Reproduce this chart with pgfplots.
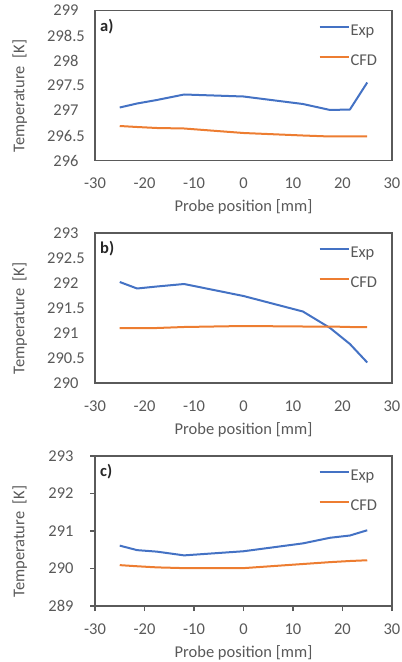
\documentclass[border=0pt]{standalone}
\usepackage{fontspec}
\setmainfont{Carlito}
\usepackage{pgfplots}
\pgfplotsset{compat=1.18}
\definecolor{exp}{HTML}{4472C4}
\definecolor{cfd}{HTML}{ED7D31}
\definecolor{txt}{HTML}{595959}
\definecolor{frm}{HTML}{5A5A5A}
\pgfplotsset{
  legend image code/.code={\draw[#1, line width=2bp] (0bp,4.5bp) -- (29bp,4.5bp);},
  panel/.style={
    width=297bp, height=150bp, scale only axis,
    xmin=-30, xmax=30, xtick={-30,-20,...,30},
    axis line style={frm, line width=1.2bp},
    tick label style={font=\fontsize{16.5bp}{18bp}\selectfont, text=txt},
    /pgf/number format/assume math mode=true,
    yticklabel style={anchor=center, xshift=-29bp},
    label style={font=\fontsize{16.5bp}{18bp}\selectfont, text=txt},
    xlabel={Probe position [mm]},
    ylabel={Temperature\ \ [K]},
    xlabel style={at={(axis description cs:0.5,-0.31)}, anchor=center},
    ylabel style={at={(axis description cs:-0.253,0.43)}, anchor=center},
    legend style={at={(axis description cs:0.752,0.915)}, anchor=north west,
      draw=none, fill=none, inner sep=0pt, row sep=14bp,
      font=\fontsize{16.5bp}{18bp}\selectfont, text=txt,
      nodes={inner sep=1bp, text height=11bp, text depth=3bp}},
    legend cell align=left,
    every axis plot/.append style={line width=2bp, no marks, line join=round},
  },
  noticks/.style={major tick length=0pt, xticklabel style={yshift=-14bp}},
}
\begin{document}
\begin{tikzpicture}
\useasboundingbox (0,-662bp) rectangle (402bp,0);
% panel a
\begin{axis}[panel, noticks, at={(95bp,-10.5bp)}, anchor=north west,
  ymin=296, ymax=299, ytick={296,296.5,...,299}]
\addplot[exp] coordinates {(-25,297.06) (-21.5,297.14) (-17.5,297.21) (-12,297.32) (0,297.28) (12,297.13) (17.5,297.01) (21.5,297.02) (25,297.56)};
\addplot[cfd] coordinates {(-25,296.69) (-21.5,296.67) (-17.5,296.65) (-12,296.64) (0,296.55) (12,296.50) (17.5,296.48) (21.5,296.48) (25,296.48)};
\legend{Exp,CFD}
\node[anchor=west, font=\bfseries\fontsize{16.5bp}{18bp}\selectfont, text=black!85, inner sep=0pt] at (axis description cs:0.017,0.893) {a)};
\end{axis}
% panel b
\begin{axis}[panel, noticks, at={(95bp,-233bp)}, anchor=north west,
  ymin=290, ymax=293, ytick={290,290.5,...,293}]
\addplot[exp] coordinates {(-25,292.02) (-21.5,291.89) (-17.5,291.93) (-12,291.98) (0,291.74) (12,291.43) (17.5,291.10) (21.5,290.78) (25,290.41)};
\addplot[cfd] coordinates {(-25,291.10) (-21.5,291.10) (-17.5,291.10) (-12,291.12) (0,291.14) (12,291.13) (17.5,291.13) (21.5,291.12) (25,291.12)};
\legend{Exp,CFD}
\node[anchor=west, font=\bfseries\fontsize{16.5bp}{18bp}\selectfont, text=black!85, inner sep=0pt] at (axis description cs:0.017,0.893) {b)};
\end{axis}
% panel c
\begin{axis}[panel, at={(95bp,-456bp)}, anchor=north west, height=150bp,
  ymin=289, ymax=293, ytick={289,290,...,293},
  tick pos=left, tick align=outside, major tick length=5bp,
  xticklabel style={yshift=-9bp},
  tick style={frm, line width=1.2bp}]
\addplot[exp] coordinates {(-25,290.61) (-21.5,290.49) (-17.5,290.45) (-12,290.35) (0,290.46) (12,290.67) (17.5,290.82) (21.5,290.88) (25,291.02)};
\addplot[cfd] coordinates {(-25,290.09) (-21.5,290.06) (-17.5,290.03) (-12,290.01) (0,290.01) (12,290.12) (17.5,290.17) (21.5,290.20) (25,290.22)};
\legend{Exp,CFD}
\node[anchor=west, font=\bfseries\fontsize{16.5bp}{18bp}\selectfont, text=black!85, inner sep=0pt] at (axis description cs:0.017,0.893) {c)};
\end{axis}
\end{tikzpicture}
\end{document}
